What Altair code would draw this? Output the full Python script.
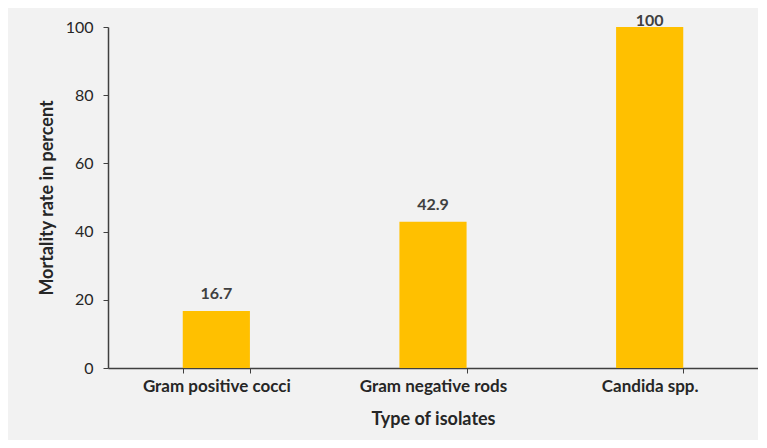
import altair as alt
import pandas as pd

categories = ["Gram positive cocci", "Gram negative rods", "Candida spp."]
mortality = [16.7, 42.9, 100]
labels = ["16.7", "42.9", "100"]

df = pd.DataFrame({"cat": categories, "val": mortality, "lab": labels})

FONT = "Lato"
TXT = "#262626"

x = alt.X("cat:N", sort=categories, title="Type of isolates",
          scale=alt.Scale(paddingInner=0.69, paddingOuter=0.345),
          axis=alt.Axis(labelAngle=0, tickBand="extent", labelFontWeight="bold",
                        labelFontSize=17, titleFontSize=18, titleFontWeight="bold",
                        labelPadding=5, titlePadding=16, tickSize=5,
                        domainColor="#404040", tickColor="#404040", domainWidth=1.5))
y = alt.Y("val:Q", title="Mortality rate in percent",
          scale=alt.Scale(domain=[0, 100], nice=False),
          axis=alt.Axis(values=[0, 20, 40, 60, 80, 100], grid=False, labelFontSize=16,
                        titleFontSize=18, titleFontWeight="bold", tickSize=5,
                        labelPadding=10, titlePadding=9,
                        domainColor="#404040", tickColor="#404040", domainWidth=1.5))

base = alt.Chart(df)
bars = base.mark_bar(color="#FFC000").encode(x=x, y=y)
text_low = base.transform_filter(alt.datum.val < 100).mark_text(
    baseline="bottom", dy=-9, font=FONT, fontWeight="bold", fontSize=16, color="#404040"
).encode(x=x, y=y, text="lab:N")
text_top = base.transform_filter(alt.datum.val >= 100).mark_text(
    baseline="bottom", dy=2, font=FONT, fontWeight="bold", fontSize=16, color="#404040"
).encode(x=x, y=y, text="lab:N")

chart = (bars + text_low + text_top).properties(
    width=650, height=341,
    autosize=alt.AutoSizeParams(type="none"),
    padding={"left": 100, "top": 19, "right": 0, "bottom": 72},
    background="#F2F2F2",
).configure_view(stroke=None).configure_axis(
    labelFont=FONT, titleFont=FONT, labelColor=TXT, titleColor=TXT
)

chart.save("out.html", embed_options={"renderer": "svg", "actions": False})
